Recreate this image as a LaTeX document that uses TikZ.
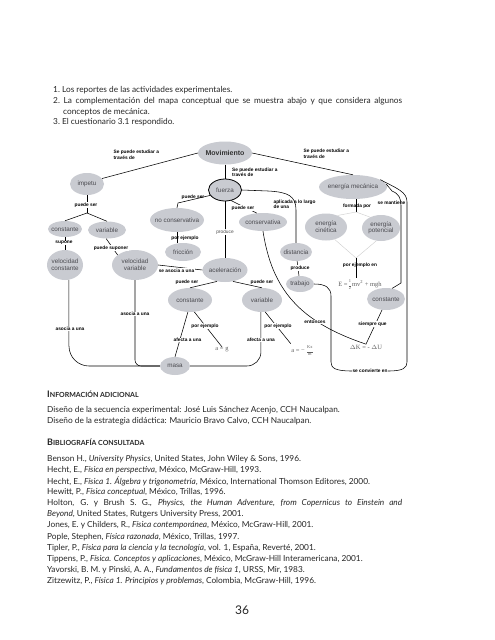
\documentclass[tikz,border=0pt]{standalone}
\usepackage{fontspec}
\setmainfont{Lato}
\newfontfamily\diag{Liberation Sans}
\newfontfamily\formfont{Liberation Serif}
\usetikzlibrary{shapes.geometric}
\definecolor{nodefill}{RGB}{201,203,209}
\definecolor{nodetext}{RGB}{75,75,80}
\definecolor{formcol}{RGB}{95,95,95}
\definecolor{thinline}{RGB}{205,205,205}
\newcommand\scfake[2]{{\bfseries\fontsize{9}{10}\selectfont #1\fontsize{7}{8}\selectfont #2}}
\newcommand\stackfrac[2]{\hspace{1.2pt}$\vcenter{\hbox{\fontsize{4.4}{5.5}\selectfont\begin{tabular}{@{}c@{}}#1\\[1.8pt]\hline #2\end{tabular}}}$\hspace{1.2pt}}
\begin{document}
\begin{tikzpicture}[x=1pt,y=-1pt,
 con/.style={ellipse, fill=nodefill, inner xsep=-4pt, inner ysep=-2pt, font=\diag\fontsize{6.3}{6.6}\selectfont, text=nodetext, align=center},
 lab/.style={font=\diag\bfseries\fontsize{4.8}{5.8}\selectfont, inner sep=0.4pt, align=left, text=black},
 labw/.style={lab, fill=white},
 link/.style={draw=black, line width=0.55pt},
 thin/.style={draw=thinline, line width=0.4pt},
 form/.style={font=\formfont\fontsize{6.5}{7}\selectfont, text=formcol, inner sep=0.5pt},
 body/.style={anchor=west, inner sep=0pt, font=\fontsize{8.3}{10.7}\selectfont, text=black!85}
]
\fill[white] (0,0) rectangle (495,640);
\useasboundingbox (0,0) rectangle (495,640);

% ---- top list
\node[body] (i1) at (53,90.5) {1.\ Los reportes de las actividades experimentales.};
\node[body] (i2) at (53,101.2) {\makebox[349pt][s]{2.\ La complementación del mapa conceptual que se muestra abajo y que considera algunos}};
\node[body] (i2b) at (63,111.9) {conceptos de mecánica.};
\node[body] (i3) at (53,122.6) {3.\ El cuestionario 3.1 respondido.};

% ---- concept nodes
\node[con, minimum width=54pt, minimum height=23pt, font=\diag\bfseries\fontsize{7}{8}\selectfont, text=black!80] (mov) at (225,153) {Movimiento};
\node[con, minimum width=34pt, minimum height=22pt] (imp) at (87,184) {impetu};
\node[con, draw=black, line width=0.8pt, minimum width=33pt, minimum height=22pt] (fue) at (225,190) {fuerza};
\node[con, minimum width=68pt, minimum height=24pt] (em) at (353,187) {energía mecánica};
\node[con, minimum width=34pt, minimum height=16pt] (cL) at (65,229) {constante};
\node[con, minimum width=38pt, minimum height=17pt] (vL) at (107,230) {variable};
\node[con, minimum width=36pt, minimum height=30pt] (vc) at (65,265) {velocidad\\constante};
\node[con, minimum width=46pt, minimum height=30pt] (vv) at (135,265) {velocidad\\variable};
\node[con, minimum width=54pt, minimum height=24pt] (nc) at (177,220) {no conservativa};
\node[con, minimum width=36pt, minimum height=18pt] (fri) at (183,252) {fricción};
\node[con, minimum width=45pt, minimum height=24pt] (ace) at (225,270) {aceleración};
\node[con, minimum width=48pt, minimum height=18pt] (cons) at (263,222) {conservativa};
\node[con, minimum width=32pt, minimum height=18pt] (dis) at (296,252) {distancia};
\node[con, minimum width=28pt, minimum height=16pt] (tra) at (300,284) {trabajo};
\node[con, minimum width=42pt, minimum height=27pt] (ec) at (326,227) {energía\\cinética};
\node[con, minimum width=38pt, minimum height=26pt] (ep) at (381,228) {energía\\potencial};
\node[con, minimum width=38pt, minimum height=22pt] (cR) at (386,299) {constante};
\node[con, minimum width=44pt, minimum height=24pt] (cM) at (190,300) {constante};
\node[con, minimum width=40pt, minimum height=24pt] (vM) at (262,300) {variable};
\node[con, minimum width=30pt, minimum height=18pt] (masa) at (175,366) {masa};

% ---- formulas
\node[form] (Ef) at (360,285) {E =\stackfrac{1}{2}mv\textsuperscript{2} + mgh};
\node[form] (ag) at (222,350) {a = g};
\node[form] (kx) at (302,351) {a = \symbol{"2212}\,\stackfrac{Kx}{m}};
\node[form] (DK) at (366,347) {$\Delta$K = - $\Delta$U};

% ---- helper coordinates
\coordinate (br) at (87,213);
\coordinate (b1) at (178,203);
\coordinate (dtop) at (356,212);
\coordinate (dbot) at (356,258);

% ---- connectors
\draw[link] (mov.west) -- (imp.20);
\draw[link] (mov.east) -- (em.north);
\draw[link] (mov) -- (fue);
\draw[link] (fue.200) -- (b1) -- (nc.north);
\draw[link] (fue) -- (ace);
\draw[link] (fue.300) -- (cons.125);
\draw[link] (fue.east) -- (268,191) .. controls (288,192) and (296,196) .. (296,210) -- (dis.north);
\draw[link] (dis) -- (tra);
\draw[link] (nc.south) -- (nc.south |- fri.north);
\draw[link] (imp.south) -- (br);
\draw[link] (br) -- (cL.north);
\draw[link] (br) -- (vL.north);
\draw[link] (cL.south) -- (vc.north);
\draw[link] (vL.-95) -- (vv.150);
\draw[link] (vv.east) -- (ace.west);
\draw[link] (ace.235) -- (cM.north);
\draw[link] (ace.305) -- (vM.north);
\draw[link] (cM.-70) -- (ag.north);
\draw[link] (cM.-100) -- (masa.north);
\draw[link] (vM.-75) -- (kx.north west);
\draw[link, rounded corners=14pt] (vM.-95) -- (vM.-95 |- masa.east) -- (masa.east);
\draw[link, rounded corners=20pt] (vc.-75) -- (vc.-75 |- masa.west) -- (masa.west);
\draw[link, rounded corners=6pt] (vv.south) -- (vv.south |- masa.west) -- (masa.west);
\draw[link] (em.south -| dtop) -- (dtop);
\draw[thin] (ec.45) -- (dtop) -- (ep.135);
\draw[thin] (ec.-55) -- (dbot) -- (ep.-110);
\draw[link] (dbot) -- (dbot |- Ef.north);
\draw[link] (em.5) -- (392,191) .. controls (399,194) and (401,198) .. (401,206) -- (401,283) -- (cR.60);
\draw[link] (cR.250) -- (DK.north);
\draw[link] (cons.south) .. controls (272,290) and (300,322) .. (DK.north);

% ---- labels
\node[lab, anchor=north west] (l1) at (113,149.5) {Se puede estudiar a\\través de};
\node[lab, anchor=north west] (l2) at (231.5,167) {Se puede estudiar a\\través de};
\node[lab, anchor=north west] (l3) at (303,148.5) {Se puede estudiar a\\través de};
\node[lab, anchor=north west] (l4) at (273,199) {aplicada a lo largo\\de una};
\node[labw] (l5) at (86,205) {puede ser};
\node[labw] (l6) at (64,243) {supone};
\node[labw] (l7) at (111,248) {puede suponer};
\node[lab] (l8) at (193,197.5) {puede ser};
\node[labw] (l9) at (243,208) {puede ser};
\node[lab] (l10) at (185,238.5) {por ejemplo};
\node[labw, font=\diag\fontsize{4.8}{5.8}\selectfont, text=black!70] (l11) at (225,232) {produce};
\node[labw] (l12) at (300,268) {produce};
\node[labw] (l13) at (176.5,270.5) {se asocia a una};
\node[lab] (l14) at (187,282) {puede ser};
\node[lab] (l15) at (262,282) {puede ser};
\node[lab] (l16) at (357,206.5) {formada por};
\node[lab] (l17) at (391.5,203) {se mantiene};
\node[lab] (l18) at (360,265.5) {por ejemplo en};
\node[labw] (l19) at (372.5,324) {siempre que};
\node[labw] (l20) at (315,322) {entonces};
\node[labw] (l21) at (205,326) {por ejemplo};
\node[labw] (l22) at (278,326) {por ejemplo};
\node[labw] (l23) at (187.5,340) {afecta a una};
\node[labw] (l24) at (261,340) {afecta a una};
\node[labw] (l25) at (70,329) {asocia a una};
\node[labw] (l26) at (135,314) {asocia a una};
\node[lab] (sce) at (370,371) {se convierte en};
\draw[link] (em.15) .. controls (398,189) and (407,192) .. (407,202) -- (407,362) .. controls (407,368) and (403,371) .. (sce.east);
\draw[link] (tra.east) .. controls (326,284) and (331,288) .. (331,296) -- (331,362) .. controls (331,368) and (335,371) .. (sce.west);

% ---- lower text
\node[body] (h1) at (47,394) {\scfake{I}{NFORMACIÓN ADICIONAL}};
\node[body] (d1) at (47,410.5) {Diseño de la secuencia experimental: José Luis Sánchez Acenjo, CCH Naucalpan.};
\node[body] (d2) at (47,421) {Diseño de la estrategia didáctica: Mauricio Bravo Calvo, CCH Naucalpan.};
\node[body] (h2) at (47,442) {\scfake{B}{IBLIOGRAFÍA CONSULTADA}};
\node[body] (r1) at (47,459) {Benson H., \textit{University Physics}, United States, John Wiley \& Sons, 1996.};
\node[body] (r2) at (47,470.1) {Hecht, E., \textit{Física en perspectiva}, México, McGraw-Hill, 1993.};
\node[body] (r3) at (47,481.2) {Hecht, E., \textit{Física 1. Álgebra y trigonometría}, México, International Thomson Editores, 2000.};
\node[body] (r4) at (47,492.3) {Hewitt, P., \textit{Física conceptual}, México, Trillas, 1996.};
\node[body] (r5) at (47,503.4) {\makebox[355pt][s]{Holton, G. y Brush S. G., \textit{Physics, the Human Adventure, from Copernicus to Einstein and}}};
\node[body] (r6) at (47,514.5) {\textit{Beyond}, United States, Rutgers University Press, 2001.};
\node[body] (r7) at (47,525.6) {Jones, E. y Childers, R., \textit{Física contemporánea}, México, McGraw-Hill, 2001.};
\node[body] (r8) at (47,536.7) {Pople, Stephen, \textit{Física razonada}, México, Trillas, 1997.};
\node[body] (r9) at (47,547.8) {Tipler, P., \textit{Física para la ciencia y la tecnología}, vol. 1, España, Reverté, 2001.};
\node[body] (r10) at (47,558.9) {Tippens, P., \textit{Física. Conceptos y aplicaciones}, México, McGraw-Hill Interamericana, 2001.};
\node[body] (r11) at (47,570) {Yavorski, B. M. y Pinski, A. A., \textit{Fundamentos de física 1}, URSS, Mir, 1983.};
\node[body] (r12) at (47,581.1) {Zitzewitz, P., \textit{Física 1. Principios y problemas}, Colombia, McGraw-Hill, 1996.};
\node[font=\fontsize{12}{12}\selectfont, text=black!85, inner sep=0pt] (pg) at (242,610) {36};
\end{tikzpicture}
\end{document}
